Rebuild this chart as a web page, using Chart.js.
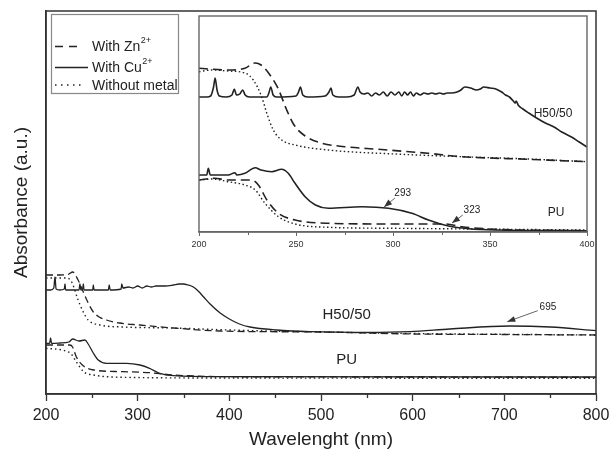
<!DOCTYPE html>
<html><head><meta charset="utf-8">
<script src="https://cdn.jsdelivr.net/npm/chart.js@4/dist/chart.umd.min.js"></script>
<style>
html,body{margin:0;padding:0;background:#fff;}
#wrap{position:relative;width:609px;height:451px;}
#main{position:absolute;left:0;top:0;}
#inset{position:absolute;left:190px;top:13px;}
</style></head>
<body><div id="wrap"><canvas id="main" width="609" height="451"></canvas><canvas id="inset" width="406" height="245"></canvas></div>
<script>
// ---------- data (wavelength nm, absorbance a.u.) ----------
const seriesNames = ['With Zn', 'With Cu', 'Without metal'];
const seriesSup = ['2+', '2+', ''];
const xTicksMain = [200, 300, 400, 500, 600, 700, 800];
const xMinorMain = [250, 350, 450, 550, 650, 750];
const xTicksInset = [200, 250, 300, 350, 400];
const xMinorInset = [225, 275, 325, 375];

// main panel
const mainH50Zn = [[200,1.18],[215,1.18],[225,1.19],[229,1.21],[235,1.13],[240.7,1.01],[246,0.90],[251.6,0.81],[258,0.76],[266,0.73],[280,0.70],[302.5,0.68],[339,0.65],[390,0.62],[500,0.61],[600,0.59],[700,0.585],[800,0.58]];
const mainH50Cu = [[200,1.03],[205,1.03],[208.5,1.05],[209.8,1.16],[211,1.04],[215,1.03],[220,1.04],[220.7,1.09],[221.5,1.03],[230,1.03],[236,1.03],[237,1.09],[238,1.03],[240,1.04],[240.7,1.09],[241.5,1.03],[251,1.03],[251.6,1.08],[252.5,1.03],[268,1.03],[269,1.08],[270,1.03],[282,1.04],[282.6,1.09],[284,1.05],[290,1.06],[295,1.05],[300,1.07],[305,1.05],[310,1.07],[315,1.06],[320,1.07],[330,1.07],[339,1.08],[345,1.09],[350,1.09],[355,1.08],[360.7,1.06],[366,1.02],[372,0.96],[379,0.89],[390,0.80],[400,0.74],[411,0.69],[422.6,0.66],[451.7,0.63],[488,0.613],[550,0.605],[597,0.613],[640.8,0.64],[706,0.67],[750,0.66],[800,0.623]];
const mainH50None = [[200,1.15],[222,1.15],[228,1.11],[235,0.93],[240.7,0.81],[246,0.73],[259,0.68],[284,0.66],[339,0.65],[400,0.63],[500,0.61],[600,0.595],[800,0.58]];
const mainPUZn = [[200,0.48],[226,0.48],[229,0.46],[233,0.363],[241,0.27],[252,0.23],[284,0.213],[313,0.203],[339,0.18],[400,0.163],[600,0.16],[800,0.157]];
const mainPUCu = [[200,0.497],[204,0.497],[205,0.55],[206,0.497],[215,0.50],[225,0.51],[229,0.54],[236,0.52],[242.5,0.53],[246,0.49],[251.6,0.40],[257,0.33],[266,0.297],[288,0.297],[302.5,0.28],[313,0.247],[324,0.197],[339,0.173],[390,0.163],[800,0.16]];
const mainPUNone = [[200,0.447],[226,0.403],[233,0.313],[241,0.213],[252,0.18],[284,0.157],[400,0.15],[800,0.147]];

// inset panel
const insH50Zn = [[200,1.637],[215,1.62],[223.7,1.637],[229,1.69],[232,1.67],[236.6,1.57],[240.9,1.43],[245,1.23],[249,1.07],[254.7,0.96],[263,0.89],[275,0.853],[292.5,0.827],[318,0.787],[335.5,0.753],[370,0.727],[400,0.703]];
const insH50Cu = [[200,1.35],[204,1.35],[206,1.36],[207.5,1.45],[208.3,1.54],[209.3,1.42],[210.5,1.36],[214,1.35],[217,1.37],[218.2,1.43],[219.3,1.37],[221,1.38],[222.5,1.42],[223.8,1.37],[226,1.35],[235,1.35],[236,1.39],[237,1.45],[238.2,1.37],[240,1.35],[250,1.36],[251.3,1.40],[252.3,1.45],[253.5,1.37],[256,1.35],[265,1.36],[267,1.40],[268,1.44],[269,1.37],[272,1.35],[276,1.35],[280,1.37],[281.9,1.45],[283,1.40],[285,1.38],[287,1.39],[289,1.36],[291,1.39],[293,1.37],[295,1.40],[297,1.36],[299,1.40],[301,1.37],[303,1.40],[304.5,1.36],[306,1.40],[307.5,1.37],[309,1.40],[310.5,1.36],[312,1.39],[314,1.37],[316,1.39],[318,1.38],[320,1.39],[322,1.38],[324,1.39],[326,1.38],[328,1.39],[330,1.39],[333,1.40],[335,1.42],[337,1.45],[340,1.44],[343,1.42],[345,1.43],[346.7,1.45],[350,1.44],[353,1.43],[356,1.40],[358,1.37],[360,1.35],[362,1.31],[363,1.29],[363.5,1.31],[364.5,1.27],[367,1.23],[370,1.19],[374,1.14],[378.5,1.09],[383,1.05],[387,1.00],[392,0.95],[396,0.90],[400,0.85]];
const insH50None = [[200,1.603],[206.5,1.62],[215,1.61],[223.7,1.59],[228,1.52],[232.3,1.353],[234.9,1.19],[238.3,1.02],[242.6,0.92],[249.5,0.87],[266.5,0.82],[301,0.78],[335.5,0.753],[370,0.73],[400,0.703]];
const insPUZn = [[200,0.52],[208,0.537],[215,0.52],[227,0.52],[230.6,0.47],[235,0.32],[241,0.187],[249.5,0.12],[266.7,0.087],[301,0.08],[327,0.08],[335.5,0.053],[352.7,0.027],[400,0.013]];
const insPUCu = [[200,0.57],[204,0.57],[204.8,0.637],[205.8,0.57],[215,0.57],[218.6,0.593],[219.5,0.57],[223.7,0.587],[229,0.643],[232,0.62],[237.5,0.603],[242.6,0.627],[246,0.587],[249.5,0.487],[254.7,0.353],[260,0.27],[266.7,0.237],[284,0.253],[297.7,0.237],[309.7,0.187],[318.3,0.12],[328.6,0.06],[339,0.033],[352.7,0.02],[400,0.013]];
const insPUNone = [[200,0.52],[206.5,0.53],[215,0.503],[223.7,0.47],[229,0.42],[234,0.287],[241,0.153],[249.5,0.08],[266.7,0.047],[301,0.037],[400,0.02]];

// ---------- helpers ----------
const FONT = "'Liberation Sans', Arial, Helvetica, sans-serif";
const INK = '#222';
const pts = a => a.map(p => ({x: p[0], y: p[1]}));
function ds(arr, kind, w, dashes) {
  return {data: pts(arr), borderColor: INK, borderWidth: w, borderDash: dashes[kind], pointRadius: 0,
          fill: false, tension: 0, cubicInterpolationMode: 'monotone', label: seriesNames[kind]};
}
function arrow(ctx, x1, y1, x2, y2) {
  ctx.beginPath(); ctx.moveTo(x1, y1); ctx.lineTo(x2, y2); ctx.stroke();
  const a = Math.atan2(y2 - y1, x2 - x1), L = 8, W = 3;
  ctx.beginPath(); ctx.moveTo(x2, y2);
  ctx.lineTo(x2 - L * Math.cos(a) + W * Math.sin(a), y2 - L * Math.sin(a) - W * Math.cos(a));
  ctx.lineTo(x2 - L * Math.cos(a) - W * Math.sin(a), y2 - L * Math.sin(a) + W * Math.cos(a));
  ctx.closePath(); ctx.fill();
}
const framePlugin = {
  id: 'frame',
  afterDatasetsDraw(chart, args, opts) {
    const {ctx, chartArea: a, scales} = chart;
    ctx.save();
    ctx.strokeStyle = opts.color; ctx.lineWidth = opts.width;
    ctx.strokeRect(a.left, a.top, a.right - a.left, a.bottom - a.top);
    // minor ticks
    ctx.lineWidth = opts.tickWidth;
    (opts.minor || []).forEach(v => {
      const px = Math.round(scales.x.getPixelForValue(v)) + 0.5;
      ctx.beginPath(); ctx.moveTo(px, a.bottom); ctx.lineTo(px, a.bottom + opts.minorLen); ctx.stroke();
    });
    // annotations
    ctx.fillStyle = INK; ctx.textAlign = 'center'; ctx.textBaseline = 'middle';
    (opts.labels || []).forEach(l => {
      ctx.font = l.size + 'px ' + FONT;
      ctx.fillText(l.text, scales.x.getPixelForValue(l.x), scales.y.getPixelForValue(l.y));
    });
    ctx.strokeStyle = '#555'; ctx.fillStyle = '#333'; ctx.lineWidth = 0.9;
    (opts.arrows || []).forEach(r => {
      arrow(ctx, scales.x.getPixelForValue(r[0]), scales.y.getPixelForValue(r[1]),
                 scales.x.getPixelForValue(r[2]), scales.y.getPixelForValue(r[3]));
    });
    ctx.restore();
  }
};
const legendPlugin = {
  id: 'customLegend',
  afterDraw(chart, args, opts) {
    if (!opts.show) return;
    const ctx = chart.ctx;
    ctx.save();
    ctx.strokeStyle = '#888'; ctx.lineWidth = 1.2;
    ctx.strokeRect(51.5, 14.5, 127, 79);
    const rows = [{y: 46.5, dash: [8, 6], len: 24}, {y: 67.5, dash: [], len: 33}, {y: 85, dash: [1.5, 4.5], len: 26}];
    rows.forEach((r, i) => {
      ctx.strokeStyle = INK; ctx.lineWidth = 1.5; ctx.setLineDash(r.dash);
      ctx.beginPath(); ctx.moveTo(55, r.y); ctx.lineTo(55 + r.len, r.y); ctx.stroke();
      ctx.setLineDash([]);
      ctx.fillStyle = INK; ctx.textAlign = 'left'; ctx.textBaseline = 'middle';
      ctx.font = '14px ' + FONT;
      ctx.fillText(seriesNames[i], 92, r.y + 1);
      if (seriesSup[i]) {
        const w = ctx.measureText(seriesNames[i]).width;
        ctx.font = '9px ' + FONT;
        ctx.fillText(seriesSup[i], 92 + w + 0.5, r.y - 6);
      }
    });
    ctx.restore();
  }
};
const noSidePad = s => { s.paddingLeft = 0; s.paddingRight = 0; };

const mainDash = [[7, 4], [], [1.5, 3]];
const insetDash = [[9, 5], [], [1.5, 2.5]];

// ---------- main chart ----------
new Chart(document.getElementById('main'), {
  type: 'line',
  data: {datasets: [
    ds(mainH50Zn, 0, 1.3, mainDash), ds(mainH50Cu, 1, 1.3, mainDash), ds(mainH50None, 2, 1.4, mainDash),
    ds(mainPUZn, 0, 1.3, mainDash), ds(mainPUCu, 1, 1.3, mainDash), ds(mainPUNone, 2, 1.4, mainDash)]},
  options: {
    responsive: false, animation: false, devicePixelRatio: 1,
    layout: {padding: {top: 11, right: 13, left: 0, bottom: 0}},
    plugins: {
      legend: {display: false}, tooltip: {enabled: false},
      frame: {color: '#333', width: 1.5, tickWidth: 1.3, minor: xMinorMain, minorLen: 4,
        labels: [{text: 'H50/50', x: 528, y: 0.78, size: 15}, {text: 'PU', x: 528, y: 0.33, size: 15},
                 {text: '695', x: 747.6, y: 0.86, size: 10}],
        arrows: [[736.4, 0.823, 703.2, 0.713]]},
      customLegend: {show: true}
    },
    scales: {
      x: {type: 'linear', min: 200, max: 800,
        afterBuildTicks: s => { s.ticks = xTicksMain.map(v => ({value: v})); },
        ticks: {autoSkip: false, maxRotation: 0, padding: 5, color: INK, font: {family: FONT, size: 16},
          callback: v => String(v)},
        grid: {drawOnChartArea: false, drawTicks: true, tickLength: 7, color: '#333', tickWidth: 1.3},
        border: {color: '#333', width: 1.5},
        title: {display: true, text: 'Wavelenght (nm)', color: INK, font: {family: FONT, size: 19}, padding: {top: 2, bottom: 0}},
        afterFit: s => { s.height = 57; noSidePad(s); }
      },
      y: {min: -0.01, max: 3.82,
        ticks: {display: false}, grid: {display: false, drawTicks: false},
        border: {color: '#333', width: 1.5},
        title: {display: true, text: 'Absorbance (a.u.)', color: INK, font: {family: FONT, size: 19}, padding: {top: 10, bottom: 0}},
        afterFit: s => { s.width = 46; }
      }
    }
  },
  plugins: [framePlugin, legendPlugin]
});

// ---------- inset chart ----------
new Chart(document.getElementById('inset'), {
  type: 'line',
  data: {datasets: [
    ds(insH50Zn, 0, 1.6, insetDash), ds(insH50Cu, 1, 1.6, insetDash), ds(insH50None, 2, 1.4, insetDash),
    ds(insPUZn, 0, 1.6, insetDash), ds(insPUCu, 1, 1.6, insetDash), ds(insPUNone, 2, 1.4, insetDash)]},
  options: {
    responsive: false, animation: false, devicePixelRatio: 1,
    layout: {padding: {top: 3, right: 9, left: 9, bottom: 0}},
    plugins: {
      legend: {display: false}, tooltip: {enabled: false},
      frame: {color: '#666', width: 1.4, tickWidth: 1, minor: xMinorInset, minorLen: 3,
        labels: [{text: 'H50/50', x: 382.5, y: 1.18, size: 12}, {text: 'PU', x: 384, y: 0.19, size: 12},
                 {text: '293', x: 305, y: 0.39, size: 10}, {text: '323', x: 340.7, y: 0.22, size: 10}],
        arrows: [[301, 0.34, 295.4, 0.25], [336, 0.17, 330.4, 0.09]]},
      customLegend: {show: false}
    },
    scales: {
      x: {type: 'linear', min: 200, max: 400,
        afterBuildTicks: s => { s.ticks = xTicksInset.map(v => ({value: v})); },
        ticks: {autoSkip: false, maxRotation: 0, padding: 3, color: '#333', font: {family: FONT, size: 9},
          callback: v => String(v)},
        grid: {drawOnChartArea: false, drawTicks: true, tickLength: 4, color: '#666', tickWidth: 1},
        border: {color: '#666', width: 1.4},
        afterFit: s => { s.height = 26; noSidePad(s); }
      },
      y: {display: false, min: 0, max: 2.16}
    }
  },
  plugins: [framePlugin, legendPlugin]
});
</script>
</body></html>
